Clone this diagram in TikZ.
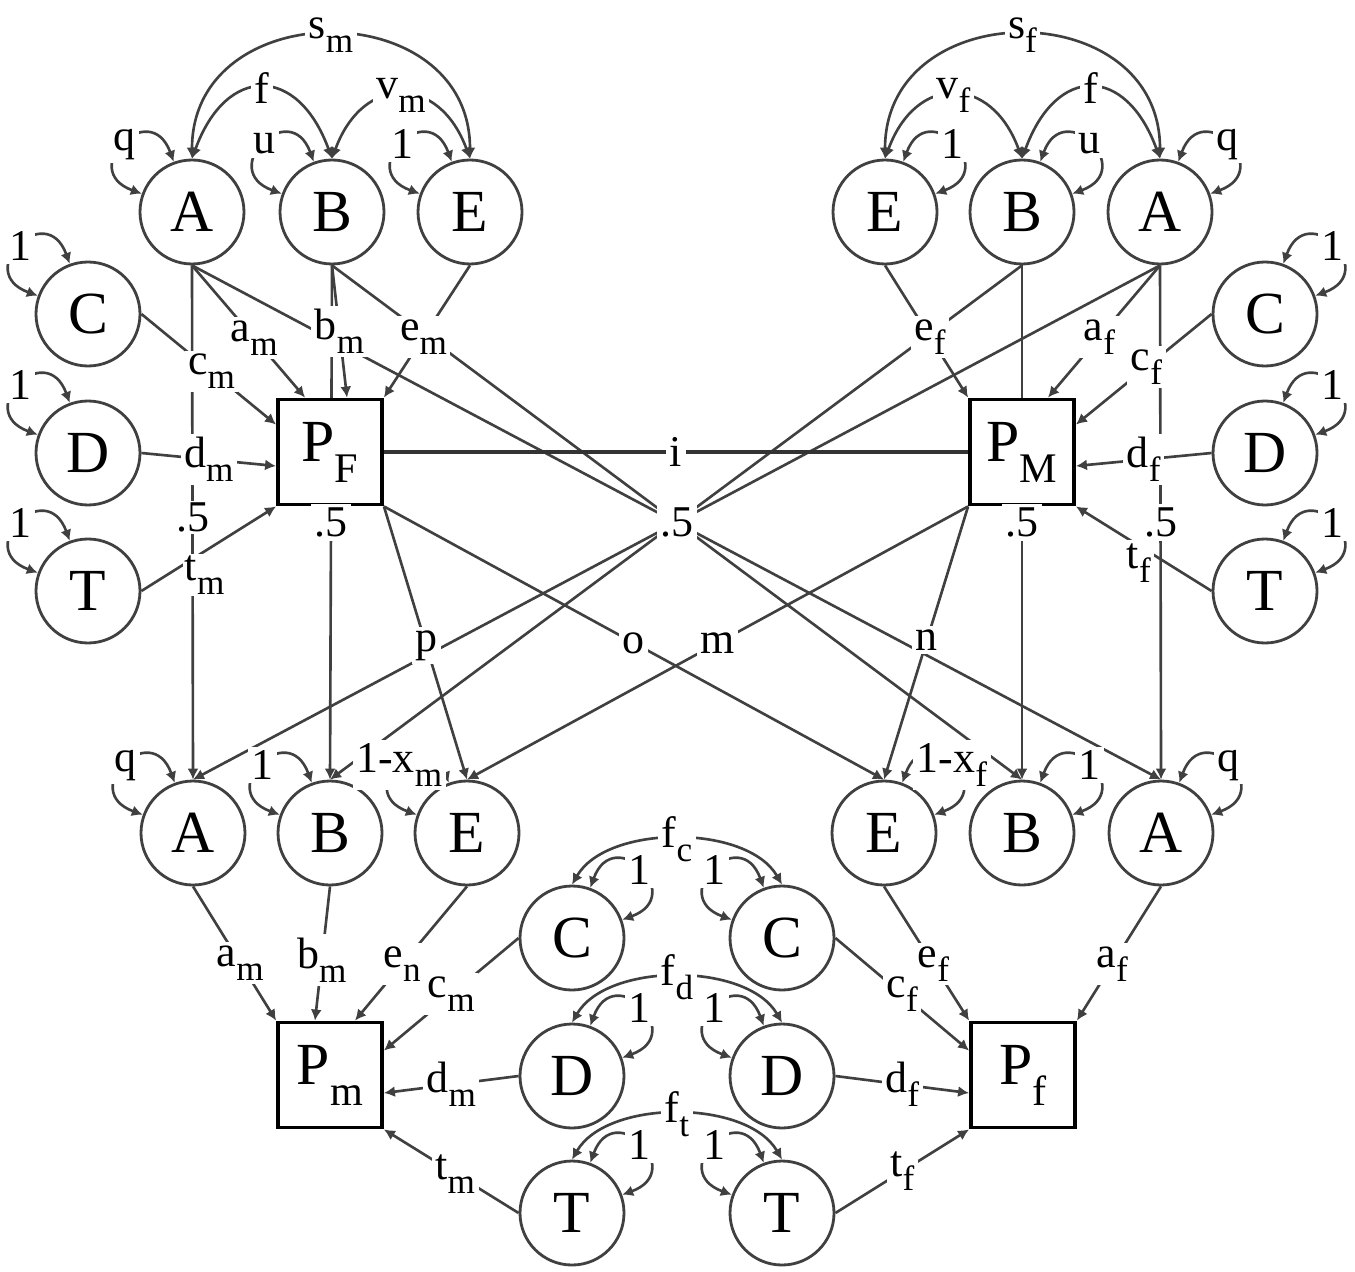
\documentclass[tikz,border=0pt]{standalone}
\usepackage{fontspec}
\setmainfont{Liberation Serif}
\usetikzlibrary{arrows.meta,positioning,calc}
\pgfdeclarelayer{background}
\pgfsetlayers{background,main}
\tikzset{
  >={Latex[length=1.1mm,width=1.1mm]},
  latent/.style={circle, draw=black!75, line width=0.8pt, fill=white,
              minimum size=1.04cm, inner sep=0pt, font=\fontsize{17}{17}\selectfont},
  pheno/.style={rectangle, draw=black, line width=1.1pt, fill=white,
              minimum width=1.04cm, minimum height=1.05cm, inner sep=0pt,
              font=\fontsize{17}{17}\selectfont},
  lbl/.style={fill=white, inner sep=1pt, font=\fontsize{12.5}{12.5}\selectfont},
  flow/.style={->, draw=black!75, line width=0.75pt},
  covar/.style={<->, draw=black!75, line width=0.75pt},
  link/.style={draw=black!80, line width=0.9pt},
}
\newcommand{\sub}[1]{\raisebox{-0.32em}{\fontsize{10}{10}\selectfont #1}}
\newcommand{\psub}[1]{\raisebox{-0.35em}{\fontsize{12}{12}\selectfont #1}}

\begin{document}
\begin{tikzpicture}
  \useasboundingbox (0,0) rectangle (13.55,-12.71);
  % parents' latent factors
  \node[latent] (AF) at (1.92,-2.12) {A};
  \node[latent] (BF) at (3.32,-2.12) {B};
  \node[latent] (EF) at (4.70,-2.12) {E};
  \node[latent] (EM) at (8.85,-2.12) {E};
  \node[latent] (BM) at (10.22,-2.12) {B};
  \node[latent] (AM) at (11.60,-2.12) {A};
  \node[latent] (CF) at (0.88,-3.14) {C};
  \node[latent] (DF) at (0.88,-4.53) {D};
  \node[latent] (TF) at (0.88,-5.91) {T};
  \node[latent] (CM) at (12.65,-3.14) {C};
  \node[latent] (DM) at (12.65,-4.53) {D};
  \node[latent] (TM) at (12.65,-5.91) {T};
  \node[pheno] (PF) at (3.30,-4.52) {P\psub{F}};
  \node[pheno] (PM) at (10.22,-4.52) {P\psub{M}};
  % twins' latent factors
  \node[latent] (Am) at (1.93,-8.33) {A};
  \node[latent] (Bm) at (3.30,-8.33) {B};
  \node[latent] (Em) at (4.67,-8.33) {E};
  \node[latent] (Ef) at (8.84,-8.33) {E};
  \node[latent] (Bf) at (10.22,-8.33) {B};
  \node[latent] (Af) at (11.61,-8.33) {A};
  \node[latent] (Cm) at (5.72,-9.38) {C};
  \node[latent] (Cf) at (7.82,-9.38) {C};
  \node[latent] (Dm) at (5.72,-10.76) {D};
  \node[latent] (Df) at (7.82,-10.76) {D};
  \node[latent] (Tm) at (5.72,-12.13) {T};
  \node[latent] (Tf) at (7.82,-12.13) {T};
  \node[pheno] (Pm) at (3.30,-10.75) {P\psub{m}};
  \node[pheno] (Pf) at (10.23,-10.75) {P\psub{f}};

  % variances
  \foreach \v/\lab in {AF/q,BF/u,EF/1,CF/1,DF/1,TF/1,Am/q,Bm/1,Em/{1-x\sub{m}},Cf/1,Df/1,Tf/1}{
    \begin{pgfonlayer}{background}
      \draw[covar] (\v.160) to[out=160,in=110,distance=0.7cm] coordinate[pos=.5] (vl\v) (\v.110);
    \end{pgfonlayer}
    \node[lbl] (vt\v) at (vl\v) {\lab};}
  \foreach \v/\lab in {EM/1,BM/u,AM/q,CM/1,DM/1,TM/1,Ef/{1-x\sub{f}},Bf/1,Af/q,Cm/1,Dm/1,Tm/1}{
    \begin{pgfonlayer}{background}
      \draw[covar] (\v.20) to[out=20,in=70,distance=0.7cm] coordinate[pos=.5] (vl\v) (\v.70);
    \end{pgfonlayer}
    \node[lbl] (vt\v) at (vl\v) {\lab};}

  \begin{pgfonlayer}{background}
    % covariance arcs
    \draw[covar] (AF.north) to[out=90,in=90,distance=1.65cm] coordinate[pos=.5] (csm) (EF.north);
    \draw[covar] (AF.north) to[out=70,in=110,distance=1cm] coordinate[pos=.5] (cfF) (BF.north);
    \draw[covar] (BF.north) to[out=70,in=110,distance=0.9cm] coordinate[pos=.5] (cvm) (EF.north);
    \draw[covar] (EM.north) to[out=90,in=90,distance=1.65cm] coordinate[pos=.5] (csf) (AM.north);
    \draw[covar] (EM.north) to[out=70,in=110,distance=0.9cm] coordinate[pos=.5] (cvf) (BM.north);
    \draw[covar] (BM.north) to[out=70,in=110,distance=1cm] coordinate[pos=.5] (cfM) (AM.north);
    \draw[covar] (Cm.north) to[out=60,in=120,distance=0.7cm] coordinate[pos=.5] (cfc) (Cf.north);
    \draw[covar] (Dm.north) to[out=60,in=120,distance=0.7cm] coordinate[pos=.5] (cfd) (Df.north);
    \draw[covar] (Tm.north) to[out=60,in=120,distance=0.7cm] coordinate[pos=.5] (cft) (Tf.north);
    % transmission to the twins
    \draw[flow] (AF.south) -- coordinate[pos=.49] (hAF) (Am.north);
    \draw[flow] (AF.south) -- coordinate[pos=.5] (hX) (Af.north);
    \draw[flow] (BF.south) -- coordinate[pos=.5] (hBF) (Bm.north);
    \draw[flow] (BF.south) -- (Bf.north);
    \draw[flow] (AM.south) -- coordinate[pos=.5] (hAM) (Af.north);
    \draw[flow] (AM.south) -- (Am.north);
    \draw[flow] (BM.south) -- coordinate[pos=.5] (hBM) (Bf.north);
    \draw[flow] (BM.south) -- (Bm.north);
    % father's phenotype
    \draw[flow] (AF.south) -- coordinate[pos=.55] (xaF) ([xshift=0.29cm]PF.north west);
    \draw[flow] (BF.south) -- coordinate[pos=.5] (xbF) ([xshift=0.17cm]PF.north);
    \draw[flow] (EF.south) -- coordinate[pos=.54] (xeF) (PF.north east);
    \draw[flow] (CF.east) -- coordinate[pos=.52] (xcF) ([yshift=-0.27cm]PF.north west);
    \draw[flow] (DF.east) -- coordinate[pos=.5] (xdF) ([yshift=-0.14cm]PF.west);
    \draw[flow] (TF.east) -- coordinate[pos=.47] (xtF) (PF.south west);
    % mother's phenotype
    \draw[flow] (AM.south) -- coordinate[pos=.54] (xaM) ([xshift=0.26cm]PM.north);
    \draw[flow] (EM.south) -- coordinate[pos=.54] (xeM) (PM.north west);
    \draw[flow] (CM.west) -- coordinate[pos=.48] (xcM) ([yshift=-0.27cm]PM.north east);
    \draw[flow] (DM.west) -- coordinate[pos=.5] (xdM) ([yshift=-0.14cm]PM.east);
    \draw[flow] (TM.west) -- coordinate[pos=.5] (xtM) (PM.south east);
    % assortment and cultural paths
    \draw[link] (PF.east) -- coordinate[pos=.5] (ci) (PM.west);
    \draw[flow] (PF.south east) -- coordinate[pos=.51] (cp) (Em.north);
    \draw[flow] (PF.south east) -- coordinate[pos=.5] (co) (Ef.north);
    \draw[flow] (PM.south west) -- coordinate[pos=.5] (cm) (Em.north);
    \draw[flow] (PM.south west) -- coordinate[pos=.49] (cn) (Ef.north);
    % male twin
    \draw[flow] (Am.south) -- coordinate[pos=.57] (xam) (Pm.north west);
    \draw[flow] (Bm.south) -- coordinate[pos=.55] (xbm) ([xshift=-0.15cm]Pm.north);
    \draw[flow] (Em.south) -- coordinate[pos=.58] (xem) ([xshift=0.25cm]Pm.north);
    \draw[flow] (Cm.west) -- coordinate[pos=.5] (xcm) ([yshift=-0.3cm]Pm.north east);
    \draw[flow] (Dm.west) -- coordinate[pos=.5] (xdm) ([yshift=-0.18cm]Pm.east);
    \draw[flow] (Tm.west) -- coordinate[pos=.47] (xtm) (Pm.south east);
    % female twin
    \draw[flow] (Ef.south) -- coordinate[pos=.58] (xef) (Pf.north west);
    \draw[flow] (Af.south) -- coordinate[pos=.58] (xaf) (Pf.north east);
    \draw[flow] (Cf.east) -- coordinate[pos=.5] (xcf) ([yshift=-0.3cm]Pf.north west);
    \draw[flow] (Df.east) -- coordinate[pos=.5] (xdf) ([yshift=-0.18cm]Pf.west);
    \draw[flow] (Tf.east) -- coordinate[pos=.5] (xtf) (Pf.south west);
  \end{pgfonlayer}

  % labels
  \node[lbl] (lsm) at (csm) {s\sub{m}};
  \node[lbl] (lfF) at (cfF) {f};
  \node[lbl] (lvm) at (cvm) {v\sub{m}};
  \node[lbl] (lsf) at (csf) {s\sub{f}};
  \node[lbl] (lvf) at (cvf) {v\sub{f}};
  \node[lbl] (lfM) at (cfM) {f};
  \node[lbl] (lfc) at (cfc) {f\sub{c}};
  \node[lbl] (lfd) at (cfd) {f\sub{d}};
  \node[lbl] (lft) at (cft) {f\sub{t}};
  \node[lbl,inner sep=0.5pt] (lhAF) at (hAF) {.5};
  \node[lbl] (lhX) at (hX) {.5};
  \node[lbl] (lhBF) at (hBF) {.5};
  \node[lbl] (lhAM) at (hAM) {.5};
  \node[lbl] (lhBM) at (hBM) {.5};
  \node[lbl] (laF) at (xaF) {a\sub{m}};
  \node[lbl] (lbF) at (xbF) {b\sub{m}};
  \node[lbl] (leF) at (xeF) {e\sub{m}};
  \node[lbl] (lcF) at (xcF) {c\sub{m}};
  \node[lbl] (ldF) at (xdF) {d\sub{m}};
  \node[lbl,inner sep=0.5pt,yshift=-0.24cm] (ltF) at (xtF) {t\sub{m}};
  \node[lbl] (laM) at (xaM) {a\sub{f}};
  \node[lbl] (leM) at (xeM) {e\sub{f}};
  \node[lbl] (lcM) at (xcM) {c\sub{f}};
  \node[lbl] (ldM) at (xdM) {d\sub{f}};
  \node[lbl,xshift=-0.05cm,yshift=-0.14cm] (ltM) at (xtM) {t\sub{f}};
  \node[lbl] (li) at (ci) {i};
  \node[lbl] (lp) at (cp) {p};
  \node[lbl] (lo) at (co) {o};
  \node[lbl] (lm) at (cm) {m};
  \node[lbl] (ln) at (cn) {n};
  \node[lbl] (lam) at (xam) {a\sub{m}};
  \node[lbl] (lbm) at (xbm) {b\sub{m}};
  \node[lbl] (lem) at (xem) {e\sub{n}};
  \node[lbl] (lcm) at (xcm) {c\sub{m}};
  \node[lbl] (ldm) at (xdm) {d\sub{m}};
  \node[lbl] (ltm) at (xtm) {t\sub{m}};
  \node[lbl] (lef) at (xef) {e\sub{f}};
  \node[lbl] (laf) at (xaf) {a\sub{f}};
  \node[lbl] (lcf) at (xcf) {c\sub{f}};
  \node[lbl] (ldf) at (xdf) {d\sub{f}};
  \node[lbl] (ltf) at (xtf) {t\sub{f}};
\end{tikzpicture}
\end{document}
